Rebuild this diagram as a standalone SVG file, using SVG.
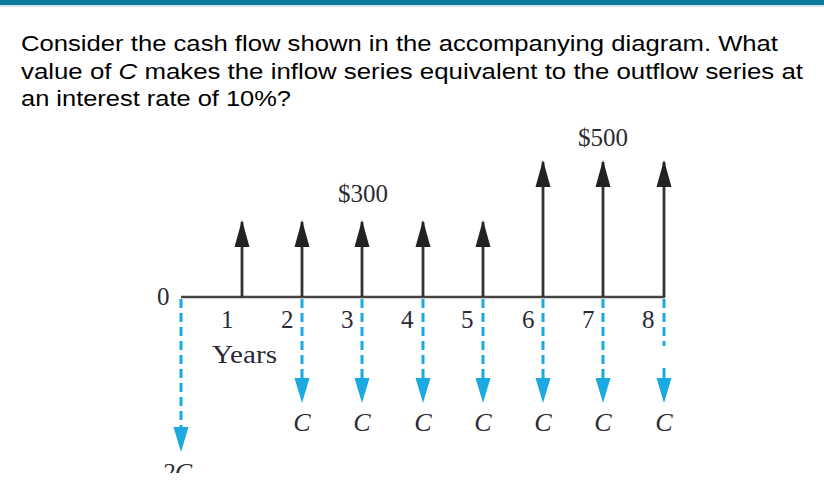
<svg xmlns="http://www.w3.org/2000/svg" width="824" height="504" viewBox="0 0 824 504">
<defs>
<style>
.q{font-family:"Liberation Sans",Arial,sans-serif;font-size:22.5px;fill:#000}
.t{font-family:"Liberation Serif","Times New Roman",serif;font-size:25px;fill:#2b2b35}
.c{font-family:"Liberation Serif","Times New Roman",serif;font-size:26px;font-style:italic;fill:#2b2b35;text-anchor:middle}
.up{stroke:#333;stroke-width:2.8;fill:none}
.dn{stroke:#1ba9e1;stroke-width:3;stroke-dasharray:9 5;fill:none}
.ax{stroke:#444;stroke-width:2.5;fill:none}
</style>
<clipPath id="clip2c"><rect x="150" y="455" width="60" height="18"/></clipPath>
</defs>
<rect x="0" y="0" width="824" height="5" fill="#0b7a9b"/>
<rect x="0" y="5" width="824" height="2" fill="#d8e4ea"/>
<g id="question">
<text class="q" x="21" y="51" textLength="757" lengthAdjust="spacingAndGlyphs">Consider the cash flow shown in the accompanying diagram. What</text>
<text class="q" x="21" y="78.5" textLength="782" lengthAdjust="spacingAndGlyphs">value of <tspan font-style="italic">C</tspan> makes the inflow series equivalent to the outflow series at</text>
<text class="q" x="21" y="106" textLength="270" lengthAdjust="spacingAndGlyphs">an interest rate of 10%?</text>
</g>
<g id="axis">
<line class="ax" x1="181" y1="297" x2="665" y2="297"/>
<text class="t" x="157" y="305">0</text>
<text class="t" x="221" y="328">1</text>
<text class="t" x="281" y="328">2</text>
<text class="t" x="341" y="328">3</text>
<text class="t" x="401" y="328">4</text>
<text class="t" x="461" y="328">5</text>
<text class="t" x="522" y="328">6</text>
<text class="t" x="582" y="328">7</text>
<text class="t" x="642" y="328">8</text>
<text class="t" x="212" y="363" textLength="65" lengthAdjust="spacingAndGlyphs">Years</text>
</g>
<g id="connectors">
<g id="inflows">
<path class="up" d="M242 297 V222" />
<path class="up" d="M302 297 V222" />
<path class="up" d="M362 297 V222" />
<path class="up" d="M423 297 V222" />
<path class="up" d="M483 297 V222" />
<path class="up" d="M543 297 V162" />
<path class="up" d="M603 297 V162" />
<path class="up" d="M664 297 V162" />
<path d="M242 220 L249.5 247 L234.5 247 Z M302 220 L309.5 247 L294.5 247 Z M362 220 L369.5 247 L354.5 247 Z M423 220 L430.5 247 L415.5 247 Z M483 220 L490.5 247 L475.5 247 Z M543 160 L550.5 187 L535.5 187 Z M603 160 L610.5 187 L595.5 187 Z M664 160 L671.5 187 L656.5 187 Z" fill="#222"/>
</g>
<g id="outflows">
<path class="dn" d="M181 299 V430"/>
<path class="dn" d="M302 299 V380"/>
<path class="dn" d="M362 299 V380"/>
<path class="dn" d="M423 299 V380"/>
<path class="dn" d="M483 299 V380"/>
<path class="dn" d="M543 299 V380"/>
<path class="dn" d="M603 299 V380"/>
<path class="dn" d="M664 299 V346"/>
<path d="M664 368 V380" stroke="#1ba9e1" stroke-width="3"/>
<path d="M181 452 L188.5 427 L173.5 427 Z M302 403 L309.5 378 L294.5 378 Z M362 403 L369.5 378 L354.5 378 Z M423 403 L430.5 378 L415.5 378 Z M483 403 L490.5 378 L475.5 378 Z M543 403 L550.5 378 L535.5 378 Z M603 403 L610.5 378 L595.5 378 Z M664 403 L671.5 378 L656.5 378 Z" fill="#1ba9e1"/>
</g>
</g>
<g id="labels">
<text class="t" x="363" y="202" text-anchor="middle">$300</text>
<text class="t" x="603" y="146" text-anchor="middle">$500</text>
<text class="c" x="302" y="431">C</text>
<text class="c" x="362" y="431">C</text>
<text class="c" x="423" y="431">C</text>
<text class="c" x="483" y="431">C</text>
<text class="c" x="543" y="431">C</text>
<text class="c" x="603" y="431">C</text>
<text class="c" x="664" y="431">C</text>
<text class="c" x="177" y="481" clip-path="url(#clip2c)">2C</text>
</g>
</svg>
